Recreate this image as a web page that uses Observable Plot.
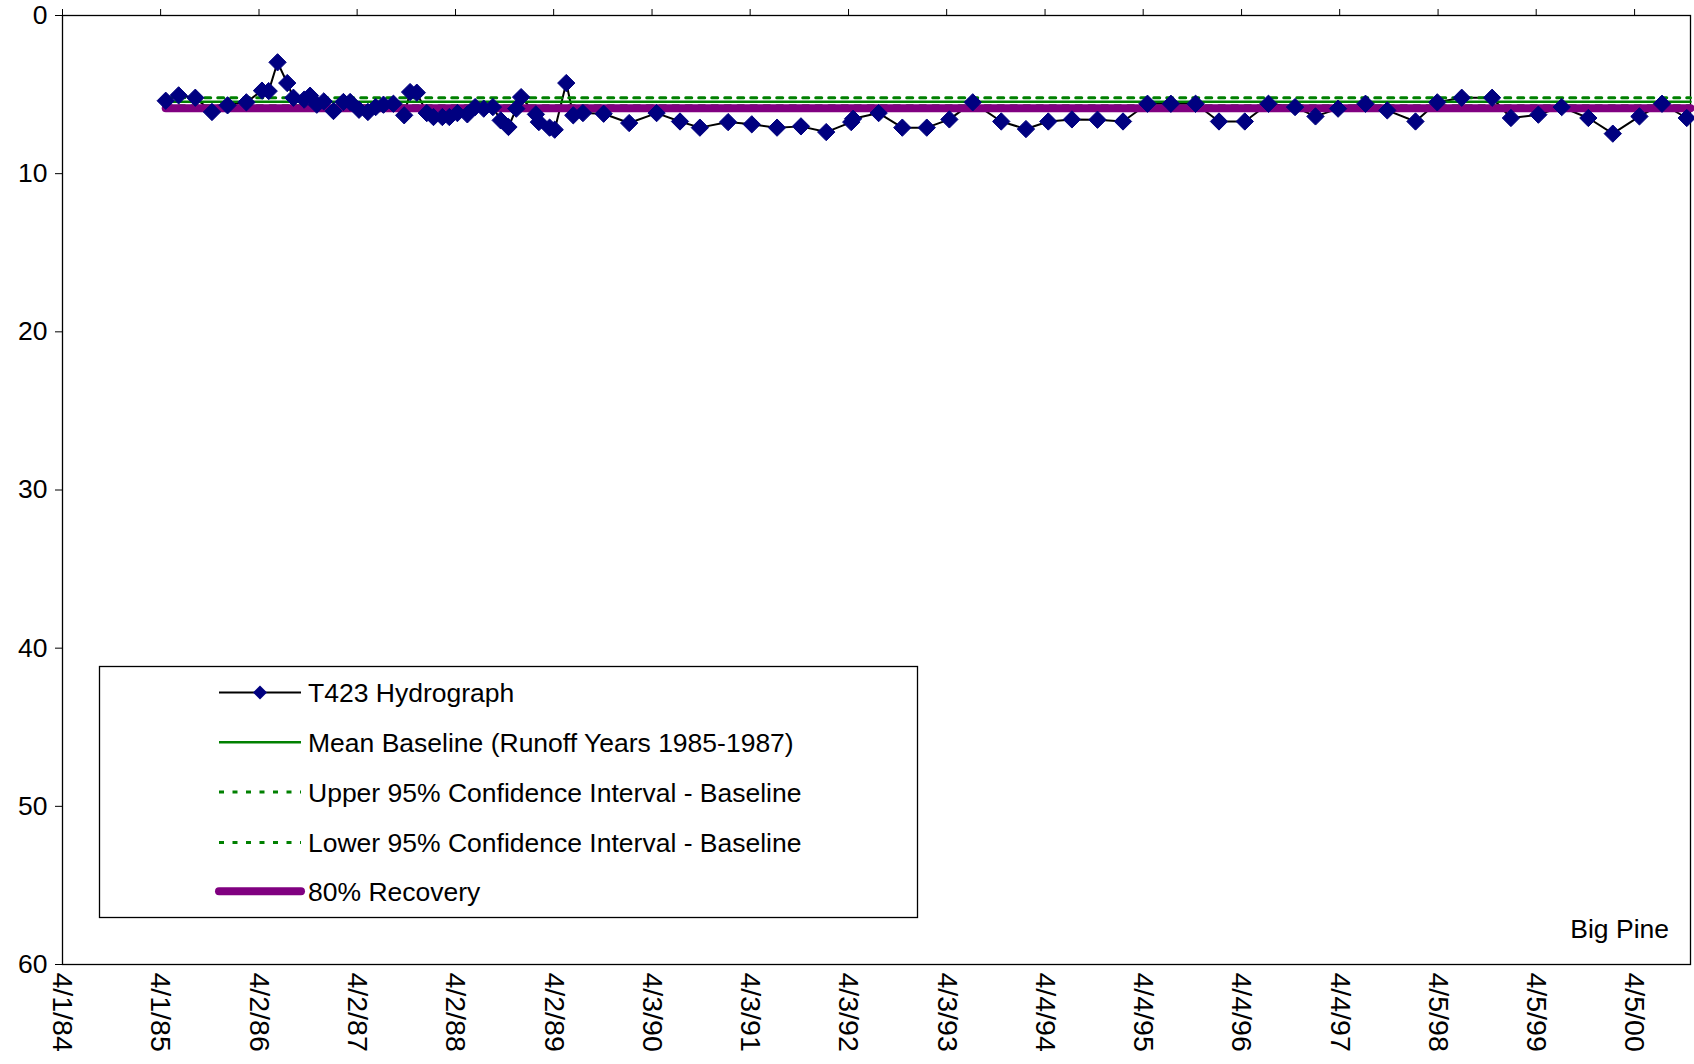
<!DOCTYPE html>
<html>
<head>
<meta charset="utf-8">
<script src="https://cdn.jsdelivr.net/npm/d3@7"></script>
<script src="https://cdn.jsdelivr.net/npm/@observablehq/plot@0.6"></script>
<style>
html, body { margin: 0; padding: 0; background: #fff; }
#chart { width: 1694px; height: 1064px; }
</style>
</head>
<body>
<div id="chart"></div>
<script>
// ---- Data ----
const dates = [
  "1985-04-20","1985-06-07","1985-08-08","1985-10-09","1985-12-06","1986-02-14","1986-04-13","1986-05-08",
  "1986-06-10","1986-07-16","1986-08-08","1986-09-17","1986-10-09","1986-11-03","1986-11-29","1987-01-04",
  "1987-02-10","1987-03-07","1987-04-09","1987-05-12","1987-06-10","1987-07-09","1987-08-15","1987-09-24",
  "1987-10-16","1987-11-10","1987-12-17","1988-01-11","1988-02-13","1988-03-10","1988-04-09","1988-05-16",
  "1988-06-14","1988-07-16","1988-08-19","1988-09-17","1988-10-16","1988-11-14","1988-12-02","1989-01-26",
  "1989-02-06","1989-03-18","1989-04-06","1989-05-19","1989-06-14","1989-07-20","1989-10-05","1990-01-08",
  "1990-04-20","1990-07-16","1990-09-28","1991-01-11","1991-04-09","1991-07-12","1991-10-09","1992-01-11",
  "1992-04-13","1992-04-20","1992-07-24","1992-10-20","1993-01-19","1993-04-13","1993-07-09","1993-10-23",
  "1994-01-23","1994-04-16","1994-07-13","1994-10-16","1995-01-19","1995-04-20","1995-07-16","1995-10-16",
  "1996-01-11","1996-04-16","1996-07-13","1996-10-20","1997-01-04","1997-03-29","1997-07-09","1997-09-28",
  "1998-01-11","1998-04-02","1998-07-02","1998-10-23","1999-01-01","1999-04-13","1999-07-09","1999-10-16",
  "2000-01-15","2000-04-23","2000-07-16","2000-10-16"
];
const depths = [
  5.39, 5.05, 5.20, 6.10, 5.68, 5.49, 4.75, 4.78,
  2.96, 4.27, 5.20, 5.32, 5.07, 5.64, 5.43, 6.04,
  5.47, 5.47, 5.96, 6.10, 5.79, 5.64, 5.58, 6.31,
  4.84, 4.88, 6.17, 6.42, 6.42, 6.42, 6.17, 6.25,
  5.79, 5.89, 5.79, 6.63, 7.05, 5.89, 5.16, 6.25,
  6.74, 7.09, 7.22, 4.27, 6.31, 6.17, 6.21, 6.80,
  6.17, 6.70, 7.09, 6.74, 6.88, 7.09, 7.01, 7.37,
  6.74, 6.53, 6.17, 7.09, 7.09, 6.57, 5.49, 6.70,
  7.18, 6.70, 6.57, 6.59, 6.70, 5.58, 5.58, 5.58,
  6.70, 6.70, 5.58, 5.79, 6.38, 5.89, 5.58, 6.00,
  6.70, 5.49, 5.20, 5.20, 6.48, 6.27, 5.79, 6.48,
  7.47, 6.38, 5.58, 6.48
];
const tickLabels = ["4/1/84","4/1/85","4/2/86","4/2/87","4/2/88","4/2/89","4/3/90","4/3/91","4/3/92",
                    "4/3/93","4/4/94","4/4/95","4/4/96","4/4/97","4/5/98","4/5/99","4/5/00"];
const yTicks = [0, 10, 20, 30, 40, 50, 60];
const meanBaseline = 5.45;
const upperCI = 5.7;
const lowerCI = 5.2;
const recovery80 = 5.86;
const xEnd = "2000-10-30";
const seriesNames = [
  "T423 Hydrograph",
  "Mean Baseline (Runoff Years 1985-1987)",
  "Upper 95% Confidence Interval - Baseline",
  "Lower 95% Confidence Interval - Baseline",
  "80% Recovery"
];
const siteLabel = "Big Pine";

// ---- Build ----
const parseTick = d3.utcParse("%m/%d/%y");
const tickDates = tickLabels.map(parseTick);
const data = dates.map((d, i) => ({date: new Date(d), depth: depths[i]}));
const xStart = data[0].date, xStop = new Date(xEnd);
const hline = v => [{date: xStart, v}, {date: xStop, v}];
const labelOf = d => tickLabels[tickDates.findIndex(t => +t === +d)];

const FONT = "'Liberation Sans', Arial, Helvetica, sans-serif";
const GREEN = "#008000", PURPLE = "#800080", NAVY = "#000080";

const chart = Plot.plot({
  width: 1694,
  height: 1064,
  marginLeft: 62,
  marginTop: 15,
  marginRight: 4,
  marginBottom: 100,
  style: {fontFamily: FONT, fontSize: "26.5px", color: "#000", background: "#fff"},
  x: {type: "utc", domain: [tickDates[0], xStop]},
  y: {domain: [0, 60], reverse: true},
  marks: [
    Plot.frame({stroke: "#000", strokeWidth: 1.3}),
    Plot.axisY({ticks: yTicks, tickSize: 7, tickPadding: 8, tickFormat: d => String(d), label: null, stroke: "#000"}),
    Plot.axisX({anchor: "top", ticks: tickDates, tickSize: 7, tickFormat: () => "", label: null, stroke: "#000"}),
    Plot.axisX({anchor: "bottom", ticks: tickDates, tickSize: 0, tickPadding: 8, tickRotate: 90, fontSize: 28.5, tickFormat: labelOf, label: null}),
    Plot.line(data, {x: "date", y: "depth", stroke: "#000", strokeWidth: 2}),
    Plot.line(hline(meanBaseline), {x: "date", y: "v", stroke: GREEN, strokeWidth: 2.5}),
    Plot.line(hline(upperCI), {x: "date", y: "v", stroke: GREEN, strokeWidth: 3, strokeDasharray: "6,7"}),
    Plot.line(hline(lowerCI), {x: "date", y: "v", stroke: GREEN, strokeWidth: 3, strokeDasharray: "6,7"}),
    Plot.line(hline(recovery80), {x: "date", y: "v", stroke: PURPLE, strokeWidth: 8, strokeLinecap: "round"}),
    Plot.dot(data, {x: "date", y: "depth", symbol: "diamond2", r: 7.8, fill: NAVY, stroke: NAVY, strokeWidth: 1})
  ]
});
document.getElementById("chart").appendChild(chart);

// ---- Legend and site label (layout in pixels) ----
const svg = d3.select(chart);
const lg = svg.append("g").attr("font-family", FONT).attr("font-size", "26.5px").attr("text-anchor", "start");
lg.append("rect").attr("x", 99.5).attr("y", 666.5).attr("width", 818).attr("height", 251)
  .attr("fill", "#fff").attr("stroke", "#000").attr("stroke-width", 1.3);
const rowY = [692.5, 742.2, 792, 842.5, 891.3];
const styles = [
  {stroke: "#000", width: 2, dash: null, cap: "butt"},
  {stroke: GREEN, width: 2.5, dash: null, cap: "butt"},
  {stroke: GREEN, width: 3, dash: "5,8.5", cap: "butt"},
  {stroke: GREEN, width: 3, dash: "5,8.5", cap: "butt"},
  {stroke: PURPLE, width: 8, dash: null, cap: "round"}
];
seriesNames.forEach((name, i) => {
  const s = styles[i];
  lg.append("line").attr("x1", 219).attr("x2", 301).attr("y1", rowY[i]).attr("y2", rowY[i])
    .attr("stroke", s.stroke).attr("stroke-width", s.width)
    .attr("stroke-dasharray", s.dash).attr("stroke-linecap", s.cap);
  if (i === 0) {
    const c = 260, y = rowY[i], h = 7;
    lg.append("path").attr("d", `M${c},${y - h}L${c + h},${y}L${c},${y + h}L${c - h},${y}Z`).attr("fill", NAVY);
  }
  lg.append("text").attr("x", 308).attr("y", rowY[i]).attr("dy", "0.36em")
    .attr("text-anchor", "start").attr("fill", "#000").text(name);
});
svg.append("text").attr("x", 1669).attr("y", 938).attr("text-anchor", "end")
  .attr("font-family", FONT).attr("font-size", "26.5px").attr("fill", "#000").text(siteLabel);
</script>
</body>
</html>
